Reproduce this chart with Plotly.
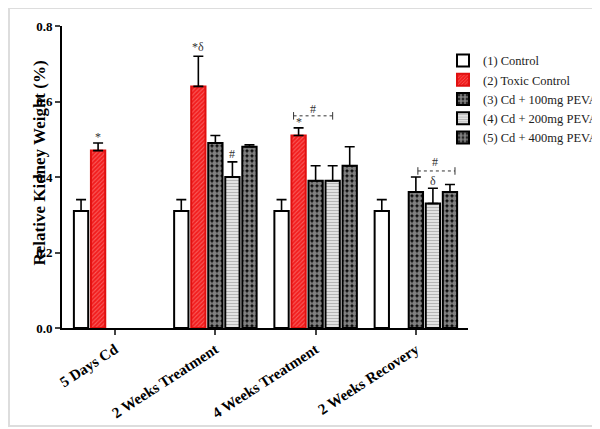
import plotly.graph_objects as go

categories = ["5 Days Cd", "2 Weeks Treatment", "4 Weeks Treatment", "2 Weeks Recovery"]
series_names = ["(1) Control", "(2) Toxic Control", "(3) Cd + 100mg PEVA",
                "(4) Cd + 200mg PEVA", "(5) Cd + 400mg PEVA"]

control = [0.31, 0.31, 0.31, 0.31]
control_err = [0.03, 0.03, 0.03, 0.03]
toxic = [0.47, 0.64, 0.51, None]
toxic_err = [0.02, 0.08, 0.02, 0]
peva100 = [None, 0.49, 0.39, 0.36]
peva100_err = [0, 0.02, 0.04, 0.04]
peva200 = [None, 0.40, 0.39, 0.33]
peva200_err = [0, 0.04, 0.04, 0.04]
peva400 = [None, 0.48, 0.43, 0.36]
peva400_err = [0, 0.005, 0.05, 0.02]

values = [control, toxic, peva100, peva200, peva400]
errors = [control_err, toxic_err, peva100_err, peva200_err, peva400_err]

serif = "Liberation Serif, Times New Roman, serif"

styles = [
    dict(color="white", line=dict(color="black", width=2)),
    dict(color="#f21d1d", line=dict(color="#e01010", width=2),
         pattern=dict(shape="/", fgcolor="#ff9c9c", bgcolor="#f21d1d", size=3, solidity=0.35)),
    dict(color="black", line=dict(color="black", width=2),
         pattern=dict(shape=".", fgcolor="white", bgcolor="black", size=5, solidity=0.75)),
    dict(color="white", line=dict(color="black", width=2),
         pattern=dict(shape="-", fgcolor="#7a7a7a", bgcolor="#f0f0f0", size=3, solidity=0.5)),
    dict(color="black", line=dict(color="black", width=2),
         pattern=dict(shape=".", fgcolor="white", bgcolor="black", size=5, solidity=0.75)),
]

fig = go.Figure()
for name, vals, errs, st in zip(series_names, values, errors, styles):
    fig.add_trace(go.Bar(
        x=categories, y=vals, name=name, marker=st,
        error_y=dict(type="data", array=errs, arrayminus=[0] * len(errs),
                     symmetric=False, color="black", thickness=1.6, width=5),
    ))

# significance marks: (x position in category units, y, text)
marks = [
    (0 - 0.17, 0.505, "*"),
    (1 - 0.17, 0.745, "*δ"),
    (1 + 0.17, 0.462, "#"),
    (2 - 0.17, 0.545, "*"),
    (1.975, 0.58, "#"),
    (3.19, 0.44, "#"),
    (3.17, 0.39, "δ"),
]
for mx, my, mt in marks:
    fig.add_annotation(x=mx, y=my, text=mt, showarrow=False,
                       font=dict(family=serif, size=12, color="#333"))

# brackets: (x start, x end, y)
brackets = [(1.78, 2.17, 0.562), (3.02, 3.39, 0.416)]
for bx0, bx1, by in brackets:
    fig.add_shape(type="line", x0=bx0, x1=bx1, y0=by, y1=by, xref="x", yref="y",
                  line=dict(color="#333", width=1, dash="dot"))
    for bx in (bx0, bx1):
        fig.add_shape(type="line", x0=bx, x1=bx, y0=by - 0.01, y1=by + 0.01,
                      xref="x", yref="y", line=dict(color="#333", width=1))

# faint frame around the picture
fig.add_shape(type="rect", xref="paper", yref="paper",
              x0=-53 / 406, x1=(598 - 54) / 406,
              y0=(320 - 418) / 302, y1=320 / 302,
              line=dict(color="#dddddd", width=2))

# y axis title placed a little above the plot centre, as in the source
fig.add_annotation(text="Relative Kidney Weight (%)", textangle=-90,
                   xref="paper", yref="paper", x=-0.084, y=0.546,
                   showarrow=False,
                   font=dict(family=serif, size=17, weight="bold", color="black"))

fig.update_layout(
    width=600, height=421,
    margin=dict(l=54, r=140, t=18, b=101, autoexpand=False),
    plot_bgcolor="white", paper_bgcolor="white",
    barmode="group", bargap=0.15, bargroupgap=0.16,
    font=dict(family=serif, color="black"),
    showlegend=True,
    legend=dict(xref="container", yref="container", x=0.725, y=0.91,
                xanchor="left", yanchor="top", itemwidth=30,
                font=dict(family=serif, size=12.5, color="#222"),
                tracegroupgap=0, bgcolor="rgba(0,0,0,0)"),
    xaxis=dict(range=[-0.53, 3.52], showline=True, linecolor="black", linewidth=2,
               ticks="outside", ticklen=5, tickwidth=2, tickangle=-33,
               tickfont=dict(family=serif, size=15, weight="bold"),
               showgrid=False, zeroline=False, automargin=False),
    yaxis=dict(range=[0, 0.8], tickvals=[0, 0.2, 0.4, 0.6, 0.8], tickformat=".1f",
               showline=True, linecolor="black", linewidth=2,
               ticks="outside", ticklen=5, tickwidth=2,
               tickfont=dict(family=serif, size=13, weight="bold"),
               showgrid=False, zeroline=False, automargin=False),
)

fig.write_html("out.html")
